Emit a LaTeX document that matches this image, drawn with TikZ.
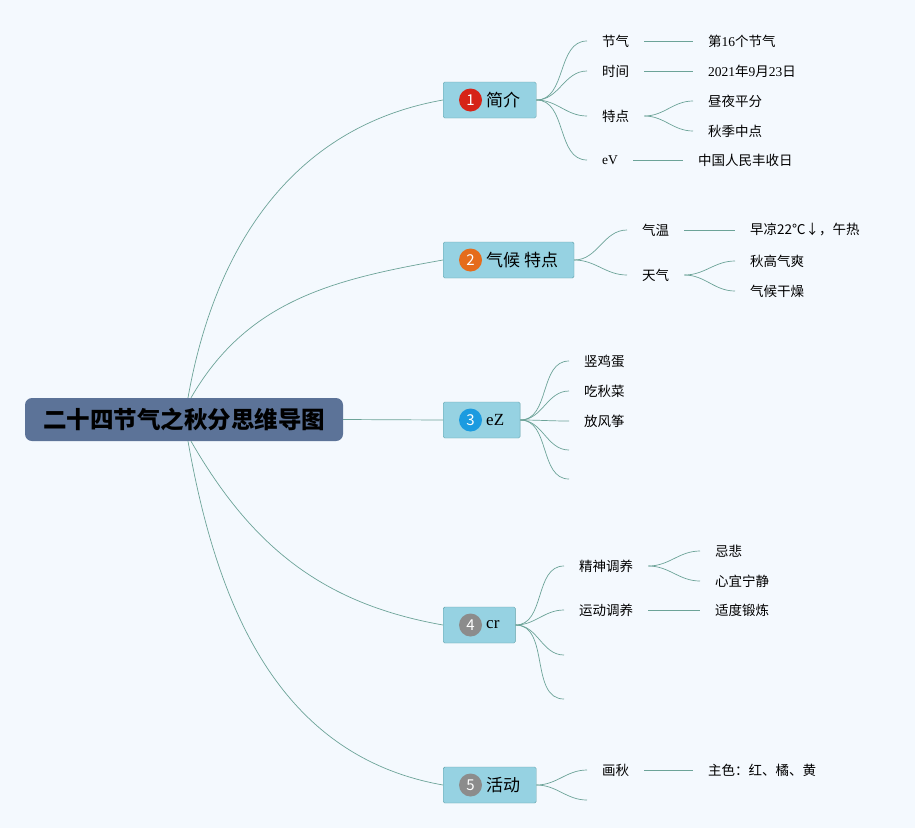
\documentclass[tikz,border=0pt]{standalone}
\usepackage{fontspec}
\setmainfont{Liberation Serif}
\newfontfamily\zh{Noto Sans CJK SC}

\definecolor{bgcol}{RGB}{244,249,254}
\definecolor{rootfill}{RGB}{92,115,152}
\definecolor{boxfill}{RGB}{150,210,226}
\definecolor{boxline}{RGB}{96,160,168}
\definecolor{linkcol}{RGB}{108,163,152}
\definecolor{numred}{RGB}{214,36,24}
\definecolor{numorange}{RGB}{229,108,28}
\definecolor{numblue}{RGB}{27,155,224}
\definecolor{numgray}{RGB}{140,140,140}

\tikzset{
  rootbox/.style={fill=rootfill, rounded corners=7pt, minimum width=318pt,
    minimum height=43pt, font=\zh\bfseries\fontsize{23.5}{26}\selectfont},
  branch/.style={draw=boxline, fill=boxfill, rounded corners=1.5pt, anchor=west,
    minimum height=36pt, inner xsep=16pt, font=\zh\fontsize{17}{20}\selectfont},
  numdot/.style={circle, inner sep=0pt, minimum size=23pt, text=white,
    font=\zh\fontsize{15}{15}\selectfont},
  leaf/.style={anchor=west, inner xsep=15pt, inner ysep=2pt,
    font=\zh\fontsize{13.5}{16}\selectfont},
  link/.style={draw=linkcol, line width=0.7pt},
}
\newcommand{\lat}[1]{{\rmfamily #1}}

\begin{document}
\begin{tikzpicture}[x=1pt,y=1pt]
    \fill[bgcol] (0,0) rectangle (915,-828);
    \useasboundingbox (0,0) rectangle (915,-828);

    % Root and main branches
    \node[rootbox] (root) at (184,-419.5) {二十四节气之秋分思维导图};
    \node[branch] (b1) at (443,-100) {\hspace{27pt}简介};
    \node[branch] (b2) at (443,-260) {\hspace{27pt}气候 特点};
    \node[branch] (b3) at (443,-420) {\hspace{27pt}\lat{eZ}};
    \node[branch] (b4) at (443,-625) {\hspace{27pt}\lat{cr}};
    \node[branch] (b5) at (443,-785) {\hspace{27pt}活动};

    \node[numdot, fill=numred] (n1) at ([xshift=27.5pt]b1.west) {1};
    \node[numdot, fill=numorange] (n2) at ([xshift=27.5pt]b2.west) {2};
    \node[numdot, fill=numblue] (n3) at ([xshift=27.5pt]b3.west) {3};
    \node[numdot, fill=numgray] (n4) at ([xshift=27.5pt]b4.west) {4};
    \node[numdot, fill=numgray] (n5) at ([xshift=27.5pt]b5.west) {5};

    \draw[link] ([xshift=4pt]root.north) to[out=80,in=190] (b1.west);
    \draw[link] ([xshift=7pt]root.north) to[out=60,in=190] (b2.west);
    \draw[link] (root.east) -- (b3.west);
    \draw[link] ([xshift=7pt]root.south) to[out=-60,in=170] (b4.west);
    \draw[link] ([xshift=4pt]root.south) to[out=-80,in=170] (b5.west);

    % Branch 1
    \node[leaf] (c11) at (587,-41) {节气};
    \node[leaf] (c12) at (587,-71) {时间};
    \node[leaf] (c13) at (587,-116) {特点};
    \node[leaf] (c14) at (587,-160) {\lat{eV}};
    \node[leaf] (g11) at (693,-41) {第\lat{16}个节气};
    \node[leaf] (g12) at (693,-71) {\lat{2021}年\lat{9}月\lat{23}日};
    \node[leaf] (g131) at (693,-101) {昼夜平分};
    \node[leaf] (g132) at (693,-131) {秋季中点};
    \node[leaf] (g14) at (683,-160) {中国人民丰收日};
    \foreach \c in {c11,c12,c13,c14}
      \draw[link] (b1.east) to[out=0,in=180] (\c.west);
    \draw[link] (c11.east) -- (g11.west);
    \draw[link] (c12.east) -- (g12.west);
    \draw[link] (c13.east) to[out=0,in=180] (g131.west);
    \draw[link] (c13.east) to[out=0,in=180] (g132.west);
    \draw[link] (c14.east) -- (g14.west);

    % Branch 2
    \node[leaf] (c21) at (627,-230) {气温};
    \node[leaf] (c22) at (627,-275) {天气};
    \node[leaf] (g21) at (735,-230) {早凉22℃↓，午热};
    \node[leaf] (g221) at (735,-261) {秋高气爽};
    \node[leaf] (g222) at (735,-291) {气候干燥};
    \draw[link] (b2.east) to[out=0,in=180] (c21.west);
    \draw[link] (b2.east) to[out=0,in=180] (c22.west);
    \draw[link] (c21.east) -- (g21.west);
    \draw[link] (c22.east) to[out=0,in=180] (g221.west);
    \draw[link] (c22.east) to[out=0,in=180] (g222.west);

    % Branch 3
    \node[leaf] (c31) at (569,-361) {竖鸡蛋};
    \node[leaf] (c32) at (569,-391) {吃秋菜};
    \node[leaf] (c33) at (569,-421) {放风筝};
    \coordinate (e34) at (569,-450);
    \coordinate (e35) at (569,-479);
    \foreach \c in {c31,c32,c33}
      \draw[link] (b3.east) to[out=0,in=180] (\c.west);
    \foreach \c in {e34,e35}
      \draw[link] (b3.east) to[out=0,in=180] (\c);

    % Branch 4
    \node[leaf] (c41) at (564,-566) {精神调养};
    \node[leaf] (c42) at (564,-610) {运动调养};
    \coordinate (e43) at (564,-655);
    \coordinate (e44) at (564,-699);
    \node[leaf] (g411) at (700,-551) {忌悲};
    \node[leaf] (g412) at (700,-581) {心宜宁静};
    \node[leaf] (g42) at (700,-610) {适度锻炼};
    \foreach \c in {c41,c42}
      \draw[link] (b4.east) to[out=0,in=180] (\c.west);
    \foreach \c in {e43,e44}
      \draw[link] (b4.east) to[out=0,in=180] (\c);
    \draw[link] (c41.east) to[out=0,in=180] (g411.west);
    \draw[link] (c41.east) to[out=0,in=180] (g412.west);
    \draw[link] (c42.east) -- (g42.west);

    % Branch 5
    \node[leaf] (c51) at (587,-770) {画秋};
    \coordinate (e52) at (587,-800);
    \node[leaf] (g51) at (693,-770) {主色：红、橘、黄};
    \draw[link] (b5.east) to[out=0,in=180] (c51.west);
    \draw[link] (b5.east) to[out=0,in=180] (e52);
    \draw[link] (c51.east) -- (g51.west);
\end{tikzpicture}
\end{document}
